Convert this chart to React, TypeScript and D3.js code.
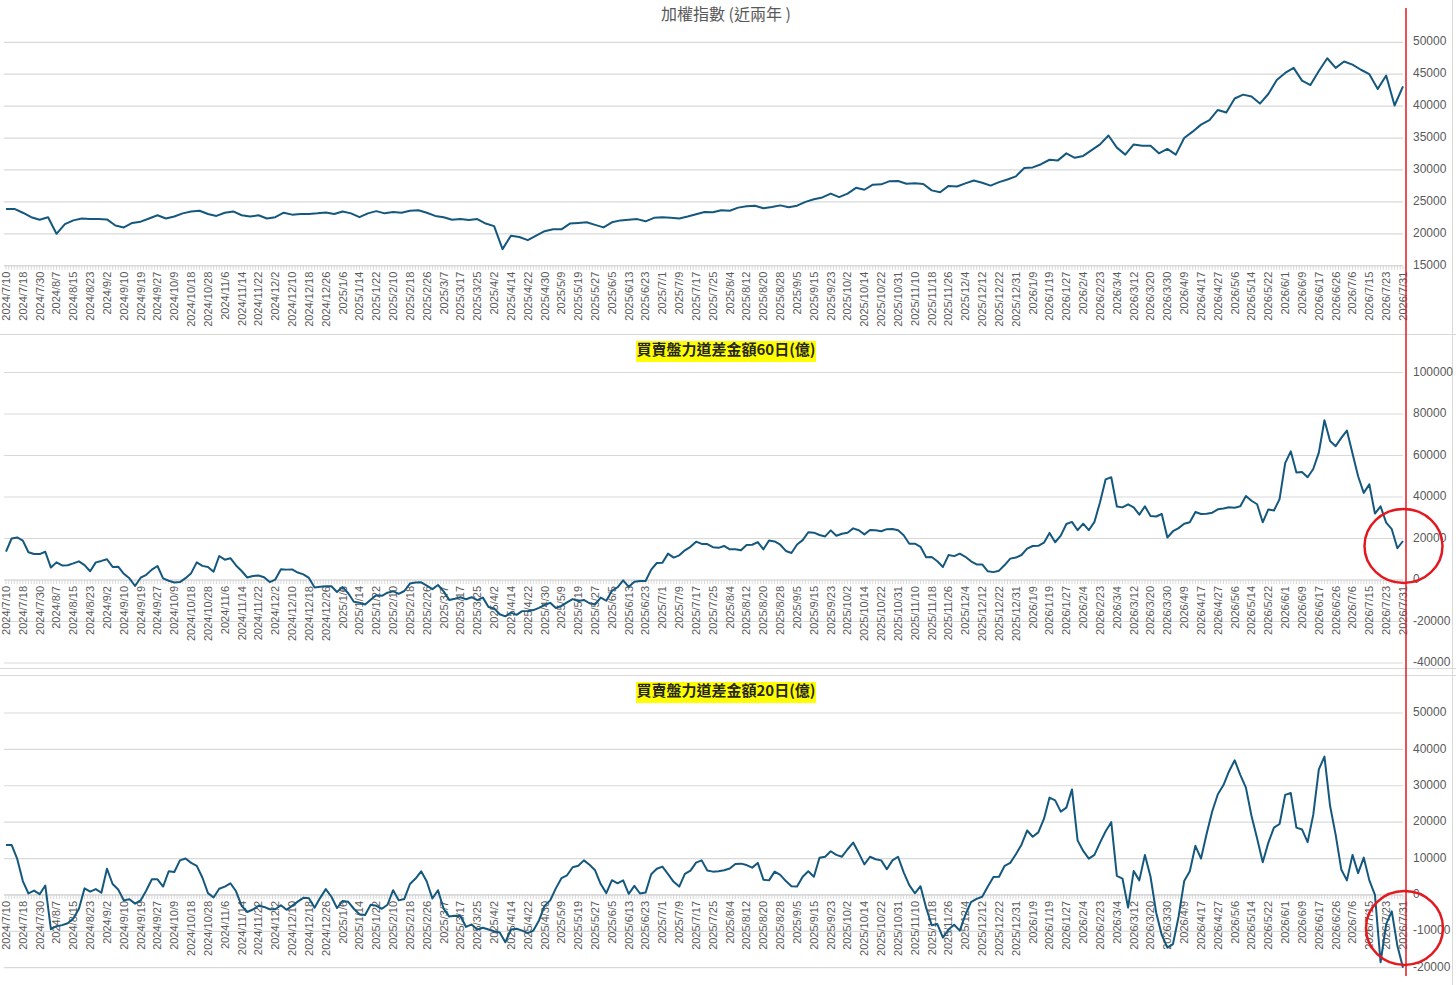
import * as d3 from "d3";

// category labels, one every 6 trading days
const DATE_LABELS = [
  "2024/7/10", "2024/7/18", "2024/7/30", "2024/8/7", "2024/8/15", "2024/8/23", "2024/9/2", "2024/9/10",
  "2024/9/19", "2024/9/27", "2024/10/9", "2024/10/18", "2024/10/28", "2024/11/6", "2024/11/14", "2024/11/22",
  "2024/12/2", "2024/12/10", "2024/12/18", "2024/12/26", "2025/1/6", "2025/1/14", "2025/1/22", "2025/2/10",
  "2025/2/18", "2025/2/26", "2025/3/7", "2025/3/17", "2025/3/25", "2025/4/2", "2025/4/14", "2025/4/22",
  "2025/4/30", "2025/5/9", "2025/5/19", "2025/5/27", "2025/6/5", "2025/6/13", "2025/6/23", "2025/7/1",
  "2025/7/9", "2025/7/17", "2025/7/25", "2025/8/4", "2025/8/12", "2025/8/20", "2025/8/28", "2025/9/5",
  "2025/9/15", "2025/9/23", "2025/10/2", "2025/10/14", "2025/10/22", "2025/10/31", "2025/11/10", "2025/11/18",
  "2025/11/26", "2025/12/4", "2025/12/12", "2025/12/22", "2025/12/31", "2026/1/9", "2026/1/19", "2026/1/27",
  "2026/2/4", "2026/2/23", "2026/3/4", "2026/3/12", "2026/3/20", "2026/3/30", "2026/4/9", "2026/4/17",
  "2026/4/27", "2026/5/6", "2026/5/14", "2026/5/22", "2026/6/1", "2026/6/9", "2026/6/17", "2026/6/26",
  "2026/7/6", "2026/7/15", "2026/7/23", "2026/7/31",
];
const LABEL_EVERY = 6; // trading days between labels
const LAST_DAY = (DATE_LABELS.length - 1) * LABEL_EVERY;

// 加權指數, one value every 3 trading days
const TAIEX_STEP = 3;
const TAIEX = [
  23900, 23900, 23300, 22600, 22200, 22600, 20000, 21500, 22100, 22400,
  22300, 22300, 22250, 21300, 21000, 21700, 21900, 22400, 22900, 22400,
  22700, 23200, 23500, 23600, 23100, 22800, 23300, 23500, 22900, 22700,
  22900, 22400, 22600, 23300, 23000, 23100, 23100, 23200, 23350, 23100,
  23500, 23200, 22600, 23200, 23550, 23200, 23400, 23300, 23600, 23700,
  23300, 22800, 22600, 22200, 22300, 22150, 22300, 21600, 21200, 17600,
  19700, 19500, 19000, 19700, 20400, 20700, 20700, 21600, 21700, 21800,
  21400, 21000, 21800, 22100, 22200, 22300, 21950, 22500, 22600, 22500,
  22400, 22700, 23050, 23400, 23360, 23700, 23600, 24100, 24300, 24400,
  24000, 24200, 24450, 24150, 24400, 25000, 25400, 25700, 26300, 25750,
  26300, 27200, 26900, 27700, 27750, 28250, 28270, 27850, 27900, 27800,
  26800, 26500, 27500, 27400, 27900, 28350, 28000, 27550, 28100, 28500,
  29000, 30300, 30400, 30900, 31600, 31500, 32600, 31900, 32200, 33100,
  34000, 35400, 33500, 32400, 34000, 33800, 33800, 32600, 33300, 32400,
  35000, 36000, 37100, 37800, 39400, 39000, 41200, 41800, 41500, 40400,
  41900, 44100, 45200, 46000, 44000, 43300, 45500, 47500, 46000, 47000,
  46500, 45700, 45000, 42700, 44800, 40100, 43100,
];

// 買賣盤力道差金額 (億), one value every 2 trading days
const FLOW_STEP = 2;
const FLOW_60D = [
  13700, 20000, 20500, 19000, 13400, 12500, 12500, 13600, 6000, 8500, 7000, 7100, 8000, 9000, 7200,
  4200, 8500, 9200, 10000, 6300, 6400, 3000, 800, -2890, 1100, 2500, 5000, 6750, 800, -350,
  -1200, -1000, 900, 3300, 8500, 6800, 6300, 4000, 11560, 9800, 10500, 7000, 4340, 1200, 1950,
  2200, 1300, -1000, 200, 5140, 5000, 5100, 3600, 2700, 1000, -3600, -3300, -3000, -3000, -5800,
  -3400, -6400, -10500, -10920, -11800, -9500, -7300, -7600, -6100, -5400, -6700, -5300, -1700, -1200, -1100,
  -2700, -4400, -2400, -5500, -9600, -9000, -8300, -9300, -8300, -9700, -8500, -13000, -13700, -16500, -17500,
  -15740, -16800, -15000, -14940, -14500, -13400, -12050, -11000, -13500, -12500, -10800, -9200, -10120, -9600, -11200,
  -11700, -8500, -10000, -5200, -3500, -200, -3300, -800, -500, -480, 5000, 8200, 8350, 12700, 10800,
  11880, 14290, 16000, 18470, 17400, 17300, 15800, 15500, 16400, 14780, 14780, 14300, 16860, 17000, 18300,
  14780, 19000, 18600, 17000, 14000, 13000, 17100, 19200, 23000, 22810, 21700, 21000, 23930, 21300, 22300,
  22810, 24890, 24000, 22000, 24090, 23950, 23500, 24500, 24600, 23930, 21600, 17500, 17500, 16000, 11000,
  11080, 9000, 6300, 12000, 11500, 12690, 11200, 9000, 7500, 7500, 4200, 3800, 4500, 7200, 10300,
  10800, 12050, 15100, 16380, 16500, 18000, 22700, 18200, 21400, 27000, 28000, 24000, 27140, 24000, 28000,
  37500, 48500, 49500, 35400, 35000, 36500, 35000, 31500, 35500, 30840, 30600, 31800, 20500, 23500, 25000,
  27140, 27800, 32800, 31800, 31900, 32440, 34050, 34500, 35100, 34850, 35500, 40500, 38200, 36500, 27800,
  34000, 33500, 39000, 56300, 62000, 51800, 52000, 49500, 53500, 61350, 77000, 67000, 64500, 68500, 72000,
  61000, 50000, 42000, 46090, 32000, 35500, 27620, 24500, 15300,
  18790,
];

const FLOW_20D = [
  13740, 13740, 9900, 3800, 400, 1200, 200, 2600, -9400, -8600, -8300, -7800, -6500, -3800, 1800,
  900, 1600, 600, 7200, 3000, 1500, -1500, -1200, -2400, -1500, 1200, 4300, 4300, 2300, 6500,
  6300, 9500, 10000, 8800, 8000, 4800, 500, -700, 1700, 2300, 3200, 1000, -3000, -4700, -4000,
  -3000, -3300, -3940, -3940, -2840, -4100, -3000, -1830, -800, -900, -3500, -800, 1600, -500, -3600,
  -1650, -1900, -3800, -5300, -5500, -2700, -3000, -3800, -2700, 1300, -1500, -1100, 3000, 4500, 6500,
  3700, -1000, 1300, -3800, -5950, -5700, -5800, -8800, -8100, -9500, -9000, -9500, -10000, -10350, -13000,
  -9500, -9300, -9800, -10500, -9800, -7000, -3000, -1500, 1800, 4600, 5400, 7600, 8000, 9500, 8300,
  6780, 3000, 500, 4050, 3200, 4000, 300, 2500, 400, 640, 5700, 7200, 7790, 5700, 3600,
  2290, 5800, 6700, 8890, 9500, 6700, 6400, 6500, 6800, 7240, 8500, 8600, 8200, 7500, 8800,
  4200, 4000, 6400, 5500, 3800, 2400, 2300, 5000, 6500, 5000, 10200, 10500, 12000, 11000, 10500,
  12550, 14400, 11500, 8400, 10500, 9800, 9500, 7050, 9500, 10500, 6200, 2700, 460, 2400, -3500,
  -8340, -8000, -11720, -9500, -8200, -9800, -5500, -2000, -1100, -500, 2300, 4900, 5000, 8000, 8800,
  11180, 13800, 17700, 16000, 17200, 20900, 26750, 26000, 22900, 24000, 29000, 15000, 12090, 9980, 11000,
  14380, 17500, 20000, 5220, 4500, -3500, 6600, 4000, 11000, 5000, -4800, -11000, -14500, -13500, -6000,
  3800, 6500, 13500, 10000, 16800, 23000, 27660, 30200, 34000, 37000, 33000, 29500, 21710, 15500, 9000,
  14380, 18500, 19500, 27500, 28000, 18500, 18000, 14500, 22000, 34500, 38000, 24500, 16500, 7000, 4000,
  11000, 6000, 10260, 4000, 0, -18500, -8000, -4500, -14000,
  -20000,
];

const TAIEX_TICKS = [15000, 20000, 25000, 30000, 35000, 40000, 45000, 50000];
const FLOW60_TICKS = [-40000, -20000, 0, 20000, 40000, 60000, 80000, 100000];
const FLOW20_TICKS = [-20000, -10000, 0, 10000, 20000, 30000, 40000, 50000];

const WIDTH = 1456;
const HEIGHT = 985;
const LINE_COLOR = "#15587e";
const GRID_COLOR = "#d9d9d9";
const TEXT_COLOR = "#595959";
const RED = "#e3191f";
const NUM_FONT = "'Liberation Sans', Arial, sans-serif";
const CJK_FONT = "'Noto Sans CJK TC', 'Noto Sans CJK SC', sans-serif";

const x = d3.scaleLinear().domain([0, LAST_DAY]).range([6, 1403]);

interface PanelProps {
  title: string;
  highlight: boolean;
  titleY: number;
  values: number[];
  step: number;
  ticks: number[];
  top: number;
  bottom: number;
  axisValue: number;
}

function Panel({ title, highlight, titleY, values, step, ticks, top, bottom, axisValue }: PanelProps) {
  const y = d3
    .scaleLinear()
    .domain([ticks[0], ticks[ticks.length - 1]])
    .range([bottom, top]);
  const axisY = y(axisValue);
  const line = d3
    .line<number>()
    .x((_, i) => x(i * step))
    .y((d) => y(d));
  const days = d3.range(0, LAST_DAY + 1);

  return (
    <g>
      {/* gridlines + right axis labels */}
      {ticks.map((t) => (
        <g key={t}>
          <line x1={4} x2={1403} y1={y(t)} y2={y(t)} stroke={GRID_COLOR} strokeWidth={1.2} />
          <text
            x={1413}
            y={y(t)}
            dominantBaseline="middle"
            fontSize={12}
            fontFamily={NUM_FONT}
            fill={TEXT_COLOR}
          >
            {t}
          </text>
        </g>
      ))}

      {/* category ticks */}
      <line x1={4} x2={1403} y1={axisY} y2={axisY} stroke={GRID_COLOR} strokeWidth={1.2} />
      {days.map((d) => (
        <line key={d} x1={x(d)} x2={x(d)} y1={axisY} y2={axisY + 4} stroke="#cfcfcf" strokeWidth={0.8} />
      ))}

      {/* date labels */}
      {DATE_LABELS.map((lab, i) => (
        <text
          key={lab}
          transform={`translate(${x(i * LABEL_EVERY) + 1},${axisY + 6}) rotate(-90)`}
          textAnchor="end"
          dominantBaseline="middle"
          fontSize={11}
          fontFamily={NUM_FONT}
          fill={TEXT_COLOR}
        >
          {lab}
        </text>
      ))}

      <path d={line(values) ?? ""} fill="none" stroke={LINE_COLOR} strokeWidth={2} strokeLinejoin="round" />

      {/* title */}
      {highlight && <rect x={636} y={titleY - 10} width={180} height={21} fill="#ffff00" />}
      <text
        x={726}
        y={titleY}
        textAnchor="middle"
        dominantBaseline="middle"
        fontSize={highlight ? 15 : 16}
        fontWeight={highlight ? 700 : 400}
        fontFamily={CJK_FONT}
        fill={highlight ? "#262626" : TEXT_COLOR}
      >
        {title}
      </text>
    </g>
  );
}

export default function App() {
  return (
    <svg
      width={WIDTH}
      height={HEIGHT}
      style={{ position: "absolute", left: 0, top: 0, display: "block", background: "#fff" }}
    >
      {/* chart frames */}
      <line x1={0} x2={WIDTH} y1={334.5} y2={334.5} stroke={GRID_COLOR} />
      <line x1={0} x2={WIDTH} y1={668.5} y2={668.5} stroke={GRID_COLOR} />
      <line x1={0} x2={WIDTH} y1={675.5} y2={675.5} stroke={GRID_COLOR} />
      <line x1={1452.5} x2={1452.5} y1={0} y2={HEIGHT} stroke={GRID_COLOR} />

      <Panel
        title="加權指數 (近兩年 )"
        highlight={false}
        titleY={16}
        values={TAIEX}
        step={TAIEX_STEP}
        ticks={TAIEX_TICKS}
        top={42.3}
        bottom={265.7}
        axisValue={15000}
      />
      <Panel
        title="買賣盤力道差金額60日(億)"
        highlight={true}
        titleY={351}
        values={FLOW_60D}
        step={FLOW_STEP}
        ticks={FLOW60_TICKS}
        top={372.5}
        bottom={663}
        axisValue={0}
      />
      <Panel
        title="買賣盤力道差金額20日(億)"
        highlight={true}
        titleY={692}
        values={FLOW_20D}
        step={FLOW_STEP}
        ticks={FLOW20_TICKS}
        top={713}
        bottom={967.7}
        axisValue={0}
      />

      {/* red marker line and circles */}
      <line x1={1406} x2={1406} y1={8} y2={976} stroke={RED} strokeWidth={1.5} />
      <ellipse cx={1403.5} cy={546} rx={39} ry={37} fill="none" stroke={RED} strokeWidth={2.5} />
      <ellipse cx={1404.5} cy={928} rx={38.5} ry={37} fill="none" stroke={RED} strokeWidth={2.5} />
    </svg>
  );
}
